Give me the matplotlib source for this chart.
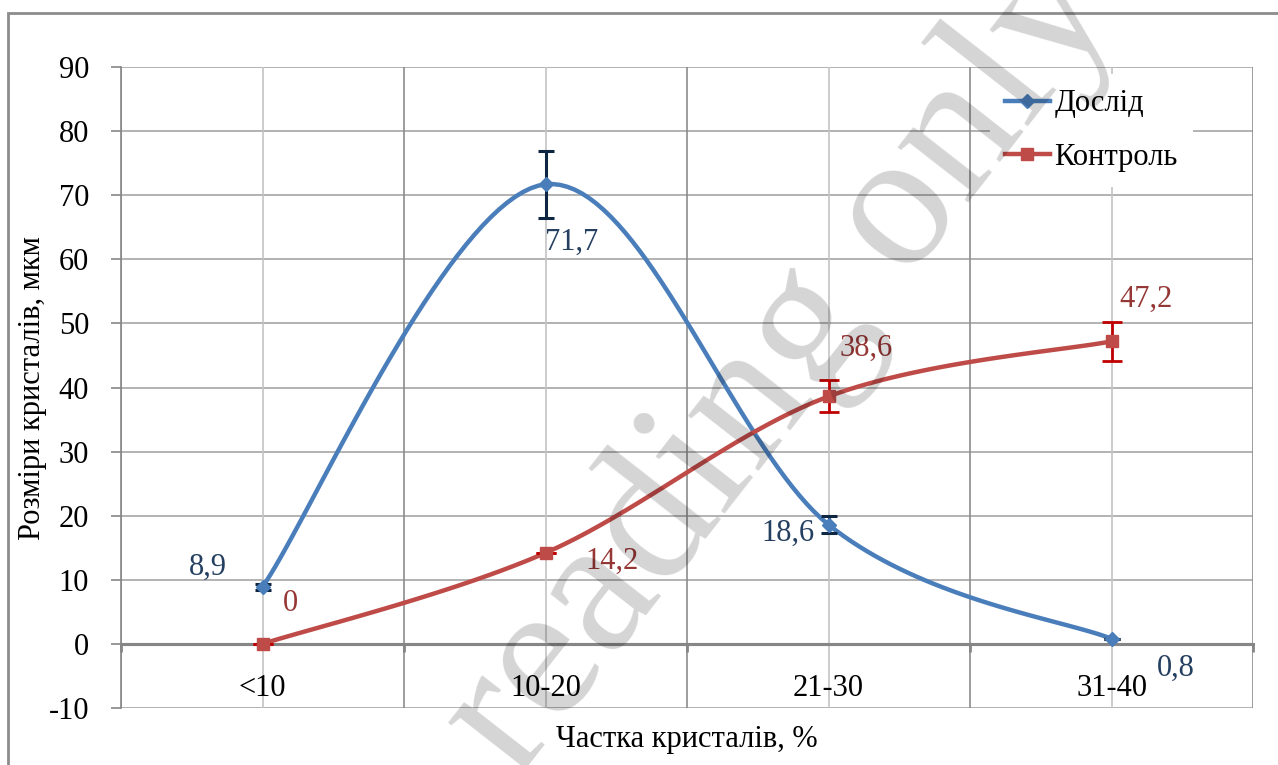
import numpy as np
import matplotlib
matplotlib.use("Agg")
import matplotlib.pyplot as plt
from matplotlib.patches import Rectangle

plt.rcParams['font.family'] = ['Liberation Serif', 'DejaVu Serif']

categories = ['<10', '10-20', '21-30', '31-40']
dosl_values = [8.9, 71.7, 18.6, 0.8]
dosl_errors = [0.5, 5.2, 1.3, 0.0]
kontr_values = [0.0, 14.2, 38.6, 47.2]
kontr_errors = [0.0, 0.0, 2.5, 3.0]
dosl_labels = ['8,9', '71,7', '18,6', '0,8']
kontr_labels = ['0', '14,2', '38,6', '47,2']
yticks = list(range(-10, 100, 10))

# label offsets (points) relative to each point
dosl_offsets = [(-39, 14), (19, -42), (-29, -6), (46, -21)]
kontr_offsets = [(20, 29), (48, -6), (27, 35), (25, 30)]

BLUE = '#4A7EBB'
RED = '#BE4B48'
BLUE_TXT = '#243F60'
RED_TXT = '#953735'


def smooth_curve(xs, ys, steps=40):
    """Excel-like smoothed line: Catmull-Rom segments as cubic Beziers."""
    pts = np.column_stack([xs, ys]).astype(float)
    n = len(pts)
    out = []
    for i in range(n - 1):
        p0 = pts[max(i - 1, 0)]
        p1 = pts[i]
        p2 = pts[i + 1]
        p3 = pts[min(i + 2, n - 1)]
        c1 = p1 + (p2 - p0) / 6.0
        c2 = p2 - (p3 - p1) / 6.0
        t = np.linspace(0, 1, steps)[:, None]
        seg = ((1 - t) ** 3) * p1 + 3 * ((1 - t) ** 2) * t * c1 \
            + 3 * (1 - t) * t ** 2 * c2 + t ** 3 * p2
        out.append(seg if i == 0 else seg[1:])
    out = np.vstack(out)
    return out[:, 0], out[:, 1]


fig = plt.figure(figsize=(12.78, 7.65), dpi=100)
ax = fig.add_axes([121 / 1278, 1 - 708 / 765, 1132 / 1278, 641 / 765])

x = np.arange(len(categories))
ax.set_xlim(-0.5, len(categories) - 0.5)
ax.set_ylim(-10, 90)

# gridlines
for yv in yticks:
    ax.axhline(yv, color='#a6a6a6', lw=1.2, zorder=0)
for xv in np.arange(-0.5, len(categories), 1.0):
    ax.axvline(xv, color='#8c8c8c', lw=1.2, zorder=0)
for xv in x:
    ax.axvline(xv, color='#c4c4c4', lw=1.2, zorder=0)

# zero axis
ax.axhline(0, color='#868686', lw=2.2, zorder=1)

for sp in ['top', 'right']:
    ax.spines[sp].set_visible(False)
ax.spines['left'].set_color('#868686')
ax.spines['left'].set_linewidth(1.2)
ax.spines['bottom'].set_position(('data', 0))
ax.spines['bottom'].set_color('#868686')
ax.spines['bottom'].set_linewidth(2.2)

ax.set_yticks(yticks)
ax.set_yticklabels([str(v) for v in yticks])
ax.tick_params(axis='y', direction='out', length=7, width=1.2, color='#868686',
               labelsize=22, pad=16)
ax.set_xticks(np.arange(-0.5, len(categories), 1.0))
ax.set_xticklabels([])
ax.tick_params(axis='x', direction='out', length=6, width=2, color='#868686')

for xi, cat in zip(x, categories):
    ax.text(xi, -7, cat, ha='center', va='center', fontsize=22)

# series
sx, sy = smooth_curve(x, dosl_values)
ax.plot(sx, sy, color=BLUE, lw=3.2, zorder=3, solid_capstyle='round')
ax.errorbar(x, dosl_values, yerr=dosl_errors, fmt='none', ecolor='#0F2642',
            elinewidth=2.2, capsize=6, capthick=2.2, zorder=4)
ax.plot(x, dosl_values, linestyle='none', marker='D', ms=7, color=BLUE, zorder=5)

sx, sy = smooth_curve(x, kontr_values)
ax.plot(sx, sy, color=RED, lw=3.2, zorder=3, solid_capstyle='round')
ax.errorbar(x, kontr_values, yerr=kontr_errors, fmt='none', ecolor='#C00000',
            elinewidth=2.0, capsize=7, capthick=2.0, zorder=4)
ax.plot(x, kontr_values, linestyle='none', marker='s', ms=9, color=RED, zorder=5)

# legend handles
h1, = ax.plot([], [], color=BLUE, lw=3.2, marker='D', ms=7)
h2, = ax.plot([], [], color=RED, lw=3.2, marker='s', ms=9)
leg = ax.legend([h1, h2], ['Дослід', 'Контроль'], loc='upper left',
                bbox_to_anchor=(990 / 1278, 1 - 74 / 765),
                bbox_transform=fig.transFigure, fontsize=22, frameon=True,
                facecolor='white', edgecolor='none', framealpha=1,
                fancybox=False, handlelength=1.45, handletextpad=0.15,
                labelspacing=0.8, borderpad=0.5, borderaxespad=0, numpoints=1)
leg.set_zorder(6)

# data labels
for xi, v, lab, off in zip(x, dosl_values, dosl_labels, dosl_offsets):
    ax.annotate(lab, (xi, v), xytext=off, textcoords='offset points',
                ha='center', va='center', fontsize=22, color=BLUE_TXT, zorder=7)
for xi, v, lab, off in zip(x, kontr_values, kontr_labels, kontr_offsets):
    ax.annotate(lab, (xi, v), xytext=off, textcoords='offset points',
                ha='center', va='center', fontsize=22, color=RED_TXT, zorder=7)

fig.text(33 / 1278, 1 - 388 / 765, 'Розміри кристалів, мкм', rotation=90,
         ha='center', va='center', fontsize=22)
fig.text(687 / 1278, 1 - 740 / 765, 'Частка кристалів, %',
         ha='center', va='center', fontsize=22)

# outer chart border
fig.patches.append(Rectangle((8 / 1278, -0.1), 1.2, 1.1 - 13 / 765,
                             transform=fig.transFigure, fill=False,
                             edgecolor='#8c8c8c', lw=2, zorder=0))

# watermark
fig.text(0.612, 0.52, 'reading only', rotation=52, fontsize=140,
         color='black', alpha=0.17, ha='center', va='center', zorder=20)

fig.savefig('out.png', dpi=100)
